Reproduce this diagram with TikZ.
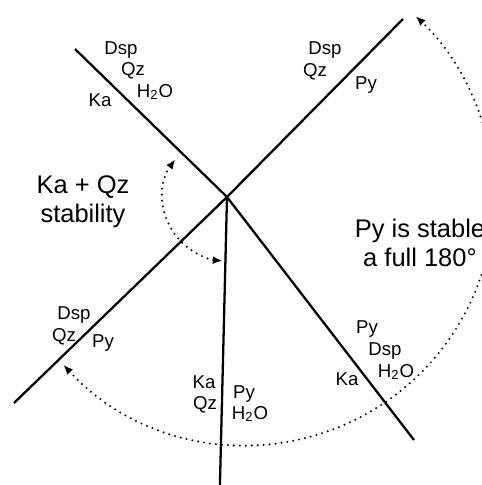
\documentclass[tikz,border=0pt]{standalone}
\usepackage{fontspec}
\setmainfont{Liberation Sans}
\usetikzlibrary{arrows.meta}

\begin{document}
\begin{tikzpicture}[
  x=0.02cm, y=0.02cm,
  phase/.style={line width=1.3pt},
  lbl/.style={anchor=base, inner sep=0pt, font=\fontsize{10.6}{12}\selectfont},
  big/.style={anchor=base, inner sep=0pt, font=\fontsize{14.5}{16.5}\selectfont},
  dotarr/.style={{Latex[length=5.5pt,width=4.5pt]}-{Latex[length=5.5pt,width=4.5pt]}, line width=1.25pt, line cap=round, dash pattern=on 0pt off 3.4pt}
]
\useasboundingbox (0,0) rectangle (482,485);
\clip (0,0) rectangle (482,485);
% invariant point and reaction lines
\coordinate (O) at (227,288);
\coordinate (nw) at (75,436);
\coordinate (ne) at (403,466);
\coordinate (sw) at (14,82);
\coordinate (s) at (219.8,-5);
\coordinate (se) at (414,45);
\draw[phase] (O) -- (nw);
\draw[phase] (O) -- (ne);
\draw[phase] (O) -- (sw);
\draw[phase] (O) -- (s);
\draw[phase] (O) -- (se);
% dotted sectors
\coordinate (C) at (246,288);
\draw[dotarr] (O) ++(144:64) arc[start angle=144, end angle=266, radius=64];
\draw[dotarr] (C) ++(222.6:248) arc[start angle=222.6, end angle=406.8, radius=248];
% labels, upper left line
\node[lbl] (nwdsp) at (121,431) {Dsp};
\node[lbl] (nwqz) at (133,410) {Qz};
\node[lbl] (nwh) at (155,388) {H\textsubscript{2}O};
\node[lbl] (nwka) at (100,379) {Ka};
% upper right line
\node[lbl] (nedsp) at (325,431) {Dsp};
\node[lbl] (neqz) at (315,409) {Qz};
\node[lbl] (nepy) at (366,396) {Py};
% lower left line
\node[lbl] (swdsp) at (74,166) {Dsp};
\node[lbl] (swqz) at (64,144) {Qz};
\node[lbl] (swpy) at (103,138) {Py};
% lower line
\node[lbl] (ska) at (204,96) {Ka};
\node[lbl] (sqz) at (205,75) {Qz};
\node[lbl] (spy) at (244,87) {Py};
\node[lbl] (sh) at (250,66) {H\textsubscript{2}O};
% lower right line
\node[lbl] (sepy) at (367,152) {Py};
\node[lbl] (sedsp) at (385,130) {Dsp};
\node[lbl] (seh) at (396,108) {H\textsubscript{2}O};
\node[lbl] (seka) at (347,100) {Ka};
% sector notes
\node[big] (kaqz) at (83,292) {Ka + Qz};
\node[big] (stab) at (83,263) {stability};
\node[big] (pystab) at (420,248) {Py is stable};
\node[big] (full) at (420,219) {a full 180°};
\end{tikzpicture}
\end{document}
